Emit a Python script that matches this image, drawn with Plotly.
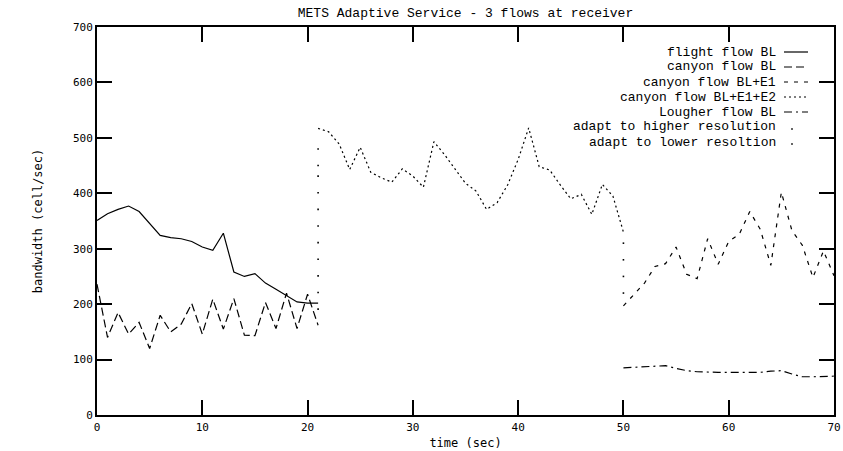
import plotly.graph_objects as go

# ---- measured bandwidth per flow (cell/sec) against time (sec) ----
flight_t = [0, 1, 2, 3, 4, 5, 6, 7, 8, 9, 10, 11, 12, 13, 14, 15, 16, 17, 18, 19, 20, 21]
flight_bw = [351, 363, 371, 377, 367, 346, 324, 320, 318, 313, 303, 297, 328, 258, 250, 255,
             238, 227, 215, 204, 202, 202]

canyon_bl_t = [0, 1, 2, 3, 4, 5, 6, 7, 8, 9, 10, 11, 12, 13, 14, 15, 16, 17, 18, 19, 20, 21]
canyon_bl_bw = [236, 140, 185, 146, 167, 120, 180, 150, 164, 201, 146, 209, 155, 210, 144, 143,
                203, 156, 220, 156, 218, 162]

canyon_e1_t = [50, 51, 52, 53, 54, 55, 56, 57, 58, 59, 60, 61, 62, 63, 64, 65, 66, 67, 68, 69, 70]
canyon_e1_bw = [197, 217, 238, 268, 273, 303, 254, 246, 318, 272, 313, 326, 367, 335, 270, 402,
                333, 306, 248, 296, 251]

canyon_e2_t = [21, 22, 23, 24, 25, 26, 27, 28, 29, 30, 31, 32, 33, 34, 35, 36, 37, 38, 39, 40,
               41, 42, 43, 44, 45, 46, 47, 48, 49, 50]
canyon_e2_bw = [517, 511, 489, 443, 483, 438, 428, 420, 444, 431, 411, 493, 470, 443, 418, 404,
                371, 383, 415, 461, 518, 448, 442, 415, 390, 398, 362, 416, 395, 330]

lougher_t = [50, 51, 52, 53, 54, 55, 56, 57, 58, 59, 60, 61, 62, 63, 64, 65, 66, 67, 68, 69, 70]
lougher_bw = [85, 86, 87, 88, 89, 84, 80, 78, 77, 77, 77, 77, 76, 77, 79, 80, 74, 69, 69, 70, 70]

adapt_up_t = [21, 21, 21, 21, 21, 21, 21, 21, 21, 21, 21]
adapt_up_bw = [191, 221, 251, 281, 311, 341, 371, 401, 431, 450, 480]

adapt_down_t = [50, 50, 50, 50]
adapt_down_bw = [310, 280, 250, 220]

legend_labels = ["flight flow BL", "canyon flow BL", "canyon flow BL+E1",
                 "canyon flow BL+E1+E2", "Lougher flow BL",
                 "adapt to higher resolution", "adapt to lower resoltion"]

MONO = "Liberation Mono"
TICK_FONT = "DejaVu Sans Mono"

line_styles = [
    dict(color="black", width=1.2, dash="solid"),
    dict(color="black", width=1.2, dash="8px,4px"),
    dict(color="black", width=1.2, dash="4px,6px"),
    dict(color="black", width=1.2, dash="2px,3px"),
    dict(color="black", width=1.2, dash="8px,4px,2px,4px"),
]

fig = go.Figure()
series = [(flight_t, flight_bw), (canyon_bl_t, canyon_bl_bw), (canyon_e1_t, canyon_e1_bw),
          (canyon_e2_t, canyon_e2_bw), (lougher_t, lougher_bw)]
for (t, bw), style, name in zip(series, line_styles, legend_labels):
    fig.add_trace(go.Scatter(x=t, y=bw, mode="lines", line=style, name=name,
                             showlegend=False, hoverinfo="skip"))

for t, bw, name in [(adapt_up_t, adapt_up_bw, legend_labels[5]),
                    (adapt_down_t, adapt_down_bw, legend_labels[6])]:
    fig.add_trace(go.Scatter(x=t, y=bw, mode="markers", name=name, showlegend=False,
                             marker=dict(size=1.6, color="black", symbol="square"),
                             hoverinfo="skip"))

# gnuplot-style key: right-aligned labels with the line sample to the right
L, R, T, B = 97, 9, 27, 36
W, H = 843, 451
pw, ph = W - L - R, H - T - B


def px_x(p):
    return (p - L) / pw


def px_y(p):
    return (H - B - p) / ph


KEY_TOP, KEY_STEP = 52, 15
annotations = []
shapes = []
for i, label in enumerate(legend_labels):
    yy = KEY_TOP + KEY_STEP * i
    annotations.append(dict(text=label, x=px_x(777), y=px_y(yy), xref="paper", yref="paper",
                            xanchor="right", yanchor="middle", showarrow=False,
                            borderpad=0,
                            font=dict(family=MONO, size=13, color="black")))
    if i < 5:
        shapes.append(dict(type="line", xref="paper", yref="paper",
                           x0=px_x(784), x1=px_x(808), y0=px_y(yy), y1=px_y(yy),
                           line=line_styles[i]))
    else:
        shapes.append(dict(type="rect", xref="paper", yref="paper",
                           xsizemode="pixel", ysizemode="pixel",
                           xanchor=px_x(792), yanchor=px_y(yy + 2),
                           x0=-0.8, x1=0.8, y0=-0.8, y1=0.8,
                           fillcolor="black", line=dict(width=0)))

axis_common = dict(showline=True, linewidth=2, linecolor="black", mirror="allticks",
                   ticks="inside", ticklen=15, tickwidth=2, tickcolor="black",
                   showgrid=False, zeroline=False, automargin=False,
                   tickfont=dict(family=TICK_FONT, size=11, color="black"))

fig.update_layout(
    width=W, height=H,
    margin=dict(l=L, r=R, t=T, b=B, autoexpand=False),
    paper_bgcolor="white", plot_bgcolor="white",
    title=dict(text="METS Adaptive Service - 3 flows at receiver",
               x=0.5, xref="paper", xanchor="center",
               y=1 - 12 / H, yref="container", yanchor="middle",
               font=dict(family=MONO, size=13, color="black")),
    xaxis=dict(range=[0, 70], dtick=10, tick0=0, ticklabelstandoff=1,
               title=dict(text="time (sec)", standoff=5,
                          font=dict(family=TICK_FONT, size=12, color="black")),
               **axis_common),
    yaxis=dict(range=[0, 700], dtick=100, tick0=0,
               title=dict(text="bandwidth (cell/sec)", standoff=28,
                          font=dict(family=TICK_FONT, size=12, color="black")),
               **axis_common),
    annotations=annotations,
    shapes=shapes,
)

fig.write_html("out.html")
